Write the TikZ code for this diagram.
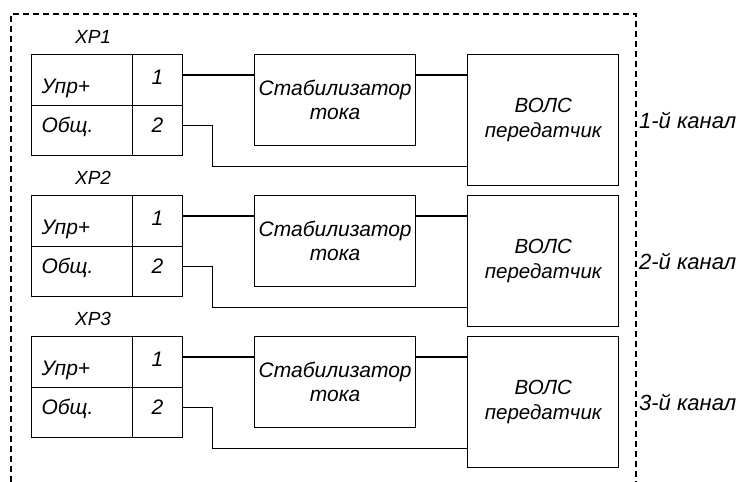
\documentclass[tikz,border=0pt]{standalone}
\usepackage{fontspec}
\setmainfont{Liberation Sans}
\usetikzlibrary{matrix,
                positioning}

\begin{document}
\begin{tikzpicture}[x=1pt, y=1pt,
line width = 1.1pt,
    XP/.style = {matrix of nodes, inner sep=0pt, outer sep=0pt,
                 ampersand replacement=\&,
                 nodes={draw, anchor=center, inner sep=0pt, outer sep=0pt,
                        font=\itshape\fontsize{21}{24}\selectfont},
                 column 1/.style = {nodes={minimum width=101pt, text width=81pt, align=left}},
                 column 2/.style = {nodes={minimum width=50pt}},
                 row 1 column 1/.style = {nodes={minimum height=51pt, text height=26pt, text depth=0pt}},
                 row 1 column 2/.style = {nodes={minimum height=51pt, text height=8pt, text depth=0pt}},
                 row 2/.style = {nodes={minimum height=50pt, text height=4pt, text depth=0pt}},
                 column sep=-\pgflinewidth,
                 row sep=-\pgflinewidth},
    XL/.style = {inner sep=0pt, font=\itshape\fontsize{19}{22}\selectfont},
    ST/.style = {draw, minimum width=161pt, minimum height=91pt, inner sep=0pt,
                 align=center, font=\itshape\fontsize{21}{24}\selectfont},
    TX/.style = {draw, minimum width=151pt, minimum height=131pt, inner sep=0pt,
                 align=center, font=\itshape\fontsize{20.5}{25}\selectfont},
    CH/.style = {font=\itshape\fontsize{22}{24}\selectfont},
 frame/.style = {dash pattern=on 6pt off 4pt}
                        ]
\useasboundingbox (0,0) rectangle (742,-482);
% dashed frame
\draw[frame] (11,-482) |- (636,-14) -- (636,-482);
% three channels
\foreach \i in {1,2,3}{
\pgfmathsetmacro{\yy}{-54-141*(\i-1)}
\matrix (xp\i) [XP, anchor=north west] at (31,\yy)
{
Упр+ \& 1 \\
Общ. \& 2 \\
};
\node (xl\i) [XL, above=10pt of xp\i.north, xshift=-14pt] {XP\i};
\node (st\i) [ST, right=71pt of xp\i.north east, anchor=north west] {Стабилизатор\\тока};
\node (tx\i) [TX, right=51pt of st\i.north east, anchor=north west] {ВОЛС\\передатчик};
\node (ch\i) [CH, right=16pt of tx\i] {\i-й канал};
% wires
\coordinate (a\i) at ([yshift=-21pt]st\i.north west);
\coordinate (b\i) at ([yshift=20pt]tx\i.south west);
\draw (xp\i-1-2.east |- a\i) -- (a\i);
\draw (st\i.east |- a\i) -- (tx\i.west |- a\i);
\draw ([yshift=5pt]xp\i-2-2.east) -- ++(30pt,0) |- (b\i);
}
\end{tikzpicture}
\end{document}
